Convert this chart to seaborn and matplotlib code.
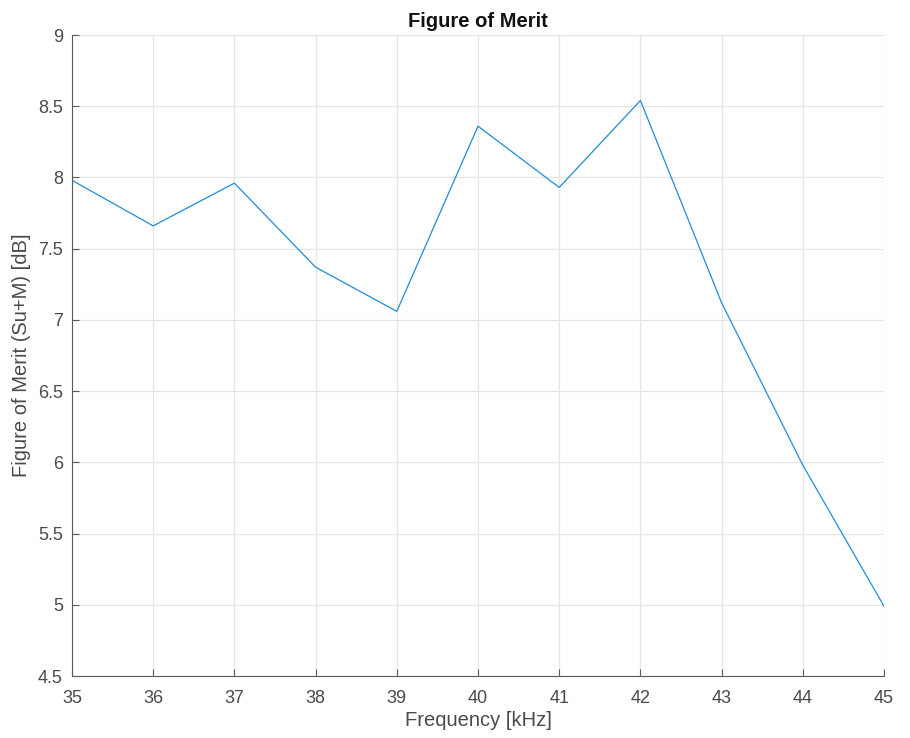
import matplotlib
matplotlib.use("Agg")
import matplotlib.pyplot as plt
import seaborn as sns
import pandas as pd

# values
freq_khz = [35, 36, 37, 38, 39, 40, 41, 42, 43, 44, 45]
fom_db = [7.98, 7.66, 7.96, 7.37, 7.06, 8.36, 7.93, 8.54, 7.12, 5.98, 4.99]

x_ticks = list(range(35, 46))
y_ticks = [4.5, 5, 5.5, 6, 6.5, 7, 7.5, 8, 8.5, 9]
y_labels = ["4.5", "5", "5.5", "6", "6.5", "7", "7.5", "8", "8.5", "9"]

df = pd.DataFrame({"freq": freq_khz, "fom": fom_db})

sns.set_theme(style="white")
plt.rcParams["font.family"] = ["Liberation Sans", "DejaVu Sans"]

fig = plt.figure(figsize=(9.1, 7.38), dpi=100)
ax = fig.add_axes([72 / 910, 1 - 676 / 738, (884 - 72) / 910, (676 - 35) / 738])

sns.lineplot(data=df, x="freq", y="fom", ax=ax, color="#1f8dd6", linewidth=0.9)

ax.set_xlim(35, 45)
ax.set_ylim(4.5, 9)
ax.set_xticks(x_ticks)
ax.set_xticklabels([str(t) for t in x_ticks])
ax.set_yticks(y_ticks)
ax.set_yticklabels(y_labels)

ax.grid(True, color="#e5e5e5", linewidth=0.9)
ax.set_axisbelow(True)
for side in ["top", "right"]:
    ax.spines[side].set_visible(False)
for side in ["left", "bottom"]:
    ax.spines[side].set_color("#5a5a5a")
    ax.spines[side].set_linewidth(0.8)

gray = "#4a4a4a"
ax.tick_params(direction="in", length=5, width=0.8, colors="#5a5a5a",
               labelcolor=gray, labelsize=13, left=True, bottom=True)
ax.tick_params(axis="x", pad=10)
ax.tick_params(axis="y", pad=6.5)

ax.set_xlabel("Frequency [kHz]", fontsize=14.5, color=gray, labelpad=3)
ax.set_ylabel("Figure of Merit (Su+M) [dB]", fontsize=14.5, color=gray, labelpad=5)
ax.set_title("Figure of Merit", fontsize=14.5, fontweight="bold", color="#111111", pad=6)

fig.savefig("out.png", dpi=100)
